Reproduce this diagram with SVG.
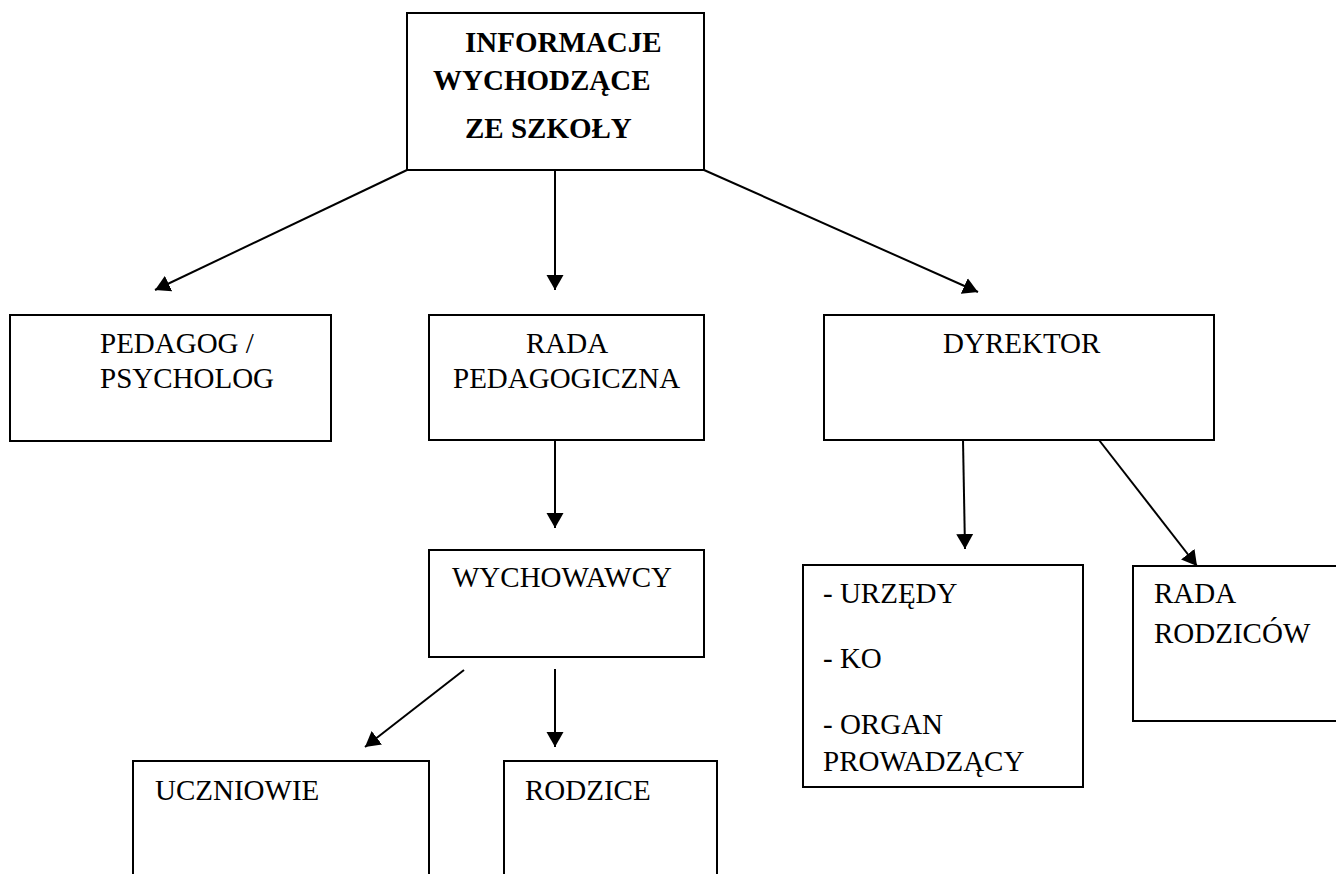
<svg xmlns="http://www.w3.org/2000/svg" width="1336" height="874" viewBox="0 0 1336 874">
<defs>
<style>
.box{fill:#fff;stroke:#000;stroke-width:2}
.t{font-family:"Liberation Serif","Times New Roman",serif;font-size:29px;fill:#000}
.b{font-weight:bold}
.c{stroke:#000;stroke-width:2;fill:none;marker-end:url(#ah)}
</style>
<marker id="ah" markerUnits="userSpaceOnUse" markerWidth="16" markerHeight="18" refX="15" refY="8.5" orient="auto" viewBox="0 0 16 17">
<path d="M0,0 L15,8.5 L0,17 z" fill="#000"/>
</marker>
</defs>
<rect width="1336" height="874" fill="#fff"/>
<g id="connectors">
<line class="c" x1="407" y1="170" x2="155" y2="290"/>
<line class="c" x1="555" y1="170" x2="555" y2="290"/>
<line class="c" x1="704" y1="170" x2="978" y2="292"/>
<line class="c" x1="555" y1="439" x2="555" y2="528"/>
<line class="c" x1="464" y1="670" x2="365" y2="747"/>
<line class="c" x1="555" y1="669" x2="555" y2="747"/>
<line class="c" x1="963" y1="440" x2="965" y2="549"/>
<line class="c" x1="1099" y1="440" x2="1197" y2="566"/>
</g>
<g id="node-top">
<rect class="box" x="407" y="13" width="297" height="157"/>
<text class="t b" x="465" y="52">INFORMACJE</text>
<text class="t b" x="433" y="90">WYCHODZĄCE</text>
<text class="t b" x="465" y="138">ZE SZKOŁY</text>
</g>
<g id="node-pedagog">
<rect class="box" x="10" y="315" width="321" height="126"/>
<text class="t" x="100" y="353">PEDAGOG /</text>
<text class="t" x="100" y="388">PSYCHOLOG</text>
</g>
<g id="node-rada-ped">
<rect class="box" x="429" y="315" width="275" height="125"/>
<text class="t" x="526" y="353">RADA</text>
<text class="t" x="453" y="388">PEDAGOGICZNA</text>
</g>
<g id="node-dyrektor">
<rect class="box" x="824" y="315" width="390" height="125"/>
<text class="t" x="943" y="353">DYREKTOR</text>
</g>
<g id="node-wychowawcy">
<rect class="box" x="429" y="550" width="275" height="107"/>
<text class="t" x="452" y="587">WYCHOWAWCY</text>
</g>
<g id="node-uczniowie">
<rect class="box" x="133" y="761" width="296" height="130"/>
<text class="t" x="155" y="800">UCZNIOWIE</text>
</g>
<g id="node-rodzice">
<rect class="box" x="504" y="761" width="213" height="130"/>
<text class="t" x="525" y="800">RODZICE</text>
</g>
<g id="node-urzedy">
<rect class="box" x="803" y="565" width="280" height="222"/>
<text class="t" x="823" y="603">- URZĘDY</text>
<text class="t" x="823" y="668">- KO</text>
<text class="t" x="823" y="734">- ORGAN</text>
<text class="t" x="823" y="771">PROWADZĄCY</text>
</g>
<g id="node-rada-rodzicow">
<rect class="box" x="1133" y="566" width="220" height="155"/>
<text class="t" x="1154" y="603">RADA</text>
<text class="t" x="1154" y="643">RODZICÓW</text>
</g>
</svg>
